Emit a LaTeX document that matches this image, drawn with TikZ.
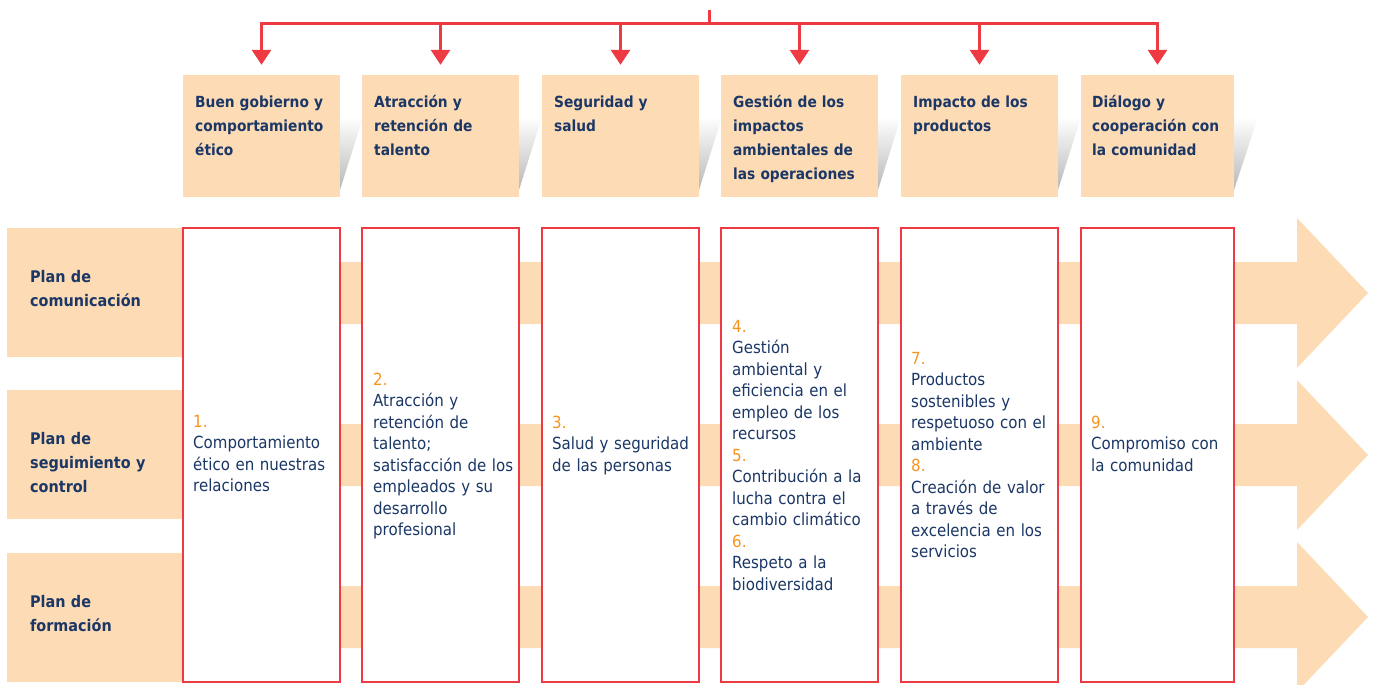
\documentclass[tikz,border=0pt]{standalone}
\usepackage{fontspec}
\setmainfont{DejaVu Sans Condensed}
\usepackage{xcolor}
\usetikzlibrary{arrows.meta,positioning,calc}

\definecolor{peach}{HTML}{FDDBB5}
\definecolor{linered}{HTML}{EE3B43}
\definecolor{navy}{HTML}{1B3766}
\definecolor{numorange}{HTML}{F7941D}

\newcommand{\itemno}[1]{\textcolor{numorange}{#1}}

\tikzset{
  headbox/.style={fill=peach, minimum width=157pt, minimum height=122pt, inner sep=0pt},
  colbox/.style={draw=linered, line width=2.5pt, fill=white, minimum width=157pt, minimum height=454pt, inner sep=0pt},
  rowbox/.style={fill=peach, minimum width=175pt, minimum height=129pt, inner sep=0pt},
  headtext/.style={anchor=base west, align=left, text width=160pt, text=navy, inner sep=0pt, font=\fontsize{15.3}{24}\selectfont\bfseries},
  rowtext/.style={headtext, font=\fontsize{16}{24}\selectfont\bfseries},
  bodytext/.style={anchor=base west, align=left, text width=160pt, text=navy, inner sep=0pt, font=\fontsize{16.7}{21.5}\selectfont},
  feed/.style={draw=linered, line width=3pt, shorten >=10pt, -{Triangle[width=19pt,length=15pt]}},
  shadowtri/.style={top color=white, bottom color=black!28},
}

\begin{document}
\begin{tikzpicture}[x=1pt, y=-1pt]
    \useasboundingbox (0,0) rectangle (1376,685);

    % Shadows behind the theme boxes
    \shade[shadowtri] (340,117) -- (363,117) -- (340,190) -- cycle;
    \shade[shadowtri] (519,117) -- (542,117) -- (519,190) -- cycle;
    \shade[shadowtri] (699,117) -- (722,117) -- (699,190) -- cycle;
    \shade[shadowtri] (878,117) -- (901,117) -- (878,190) -- cycle;
    \shade[shadowtri] (1058,117) -- (1081,117) -- (1058,190) -- cycle;
    \shade[shadowtri] (1234,117) -- (1258,117) -- (1234,190) -- cycle;

    % Theme boxes (top row)
    \node[headbox] (h1) at (261.5,136) {};
    \node[headbox] (h2) at (440.5,136) {};
    \node[headbox] (h3) at (620.5,136) {};
    \node[headbox] (h4) at (799.5,136) {};
    \node[headbox] (h5) at (979.5,136) {};
    \node[headbox, minimum width=153pt] (h6) at (1157.5,136) {};

    \node[headtext] (ht1) at (195,107) {Buen gobierno y\\comportamiento\\ético};
    \node[headtext] (ht2) at (374,107) {Atracción y\\retención de\\talento};
    \node[headtext] (ht3) at (554,107) {Seguridad y\\salud};
    \node[headtext] (ht4) at (733,107) {Gestión de los\\impactos\\ambientales de\\las operaciones};
    \node[headtext] (ht5) at (913,107) {Impacto de los\\productos};
    \node[headtext] (ht6) at (1092,107) {Diálogo y\\cooperación con\\la comunidad};

    % Plan arrows (bands behind the columns)
    \fill[peach] (182,262) -- (1297,262) -- (1297,218) -- (1368,293) -- (1297,368) -- (1297,324) -- (182,324) -- cycle;
    \fill[peach] (182,424) -- (1297,424) -- (1297,380) -- (1368,455) -- (1297,530) -- (1297,486) -- (182,486) -- cycle;
    \fill[peach] (182,586) -- (1297,586) -- (1297,542) -- (1368,617) -- (1297,692) -- (1297,648) -- (182,648) -- cycle;

    % Plan boxes (left side)
    \node[rowbox] (p1) at (94.5,292.5) {};
    \node[rowbox] (p2) at (94.5,454.5) {};
    \node[rowbox] (p3) at (94.5,617.5) {};

    \node[rowtext] (pt1) at (30,282) {Plan de\\comunicación};
    \node[rowtext] (pt2) at (30,444) {Plan de\\seguimiento y\\control};
    \node[rowtext] (pt3) at (30,607) {Plan de\\formación};

    % Commitment columns
    \node[colbox] (c1) at (261.5,455) {};
    \node[colbox] (c2) at (440.5,455) {};
    \node[colbox] (c3) at (620.5,455) {};
    \node[colbox] (c4) at (799.5,455) {};
    \node[colbox] (c5) at (979.5,455) {};
    \node[colbox, minimum width=153pt] (c6) at (1157.5,455) {};

    \node[bodytext] (ct1) at (193,427) {\itemno{1.}\\Comportamiento\\ético en nuestras\\relaciones};
    \node[bodytext] (ct2) at (373,385) {\itemno{2.}\\Atracción y\\retención de\\talento;\\satisfacción de los\\empleados y su\\desarrollo\\profesional};
    \node[bodytext] (ct3) at (552,428) {\itemno{3.}\\Salud y seguridad\\de las personas};
    \node[bodytext] (ct4) at (732,332) {\itemno{4.}\\Gestión\\ambiental y\\eficiencia en el\\empleo de los\\recursos\\\itemno{5.}\\Contribución a la\\lucha contra el\\cambio climático\\\itemno{6.}\\Respeto a la\\biodiversidad};
    \node[bodytext] (ct5) at (911,364) {\itemno{7.}\\Productos\\sostenibles y\\respetuoso con el\\ambiente\\\itemno{8.}\\Creación de valor\\a través de\\excelencia en los\\servicios};
    \node[bodytext] (ct6) at (1091,428) {\itemno{9.}\\Compromiso con\\la comunidad};

    % Feed lines from the top
    \coordinate (top) at (709,10);
    \coordinate (hub) at (709,24);
    \draw[feed] (top) -- (hub) -| (h1.north);
    \draw[feed] (top) -- (hub) -| (h2.north);
    \draw[feed] (top) -- (hub) -| (h3.north);
    \draw[feed] (top) -- (hub) -| (h4.north);
    \draw[feed] (top) -- (hub) -| (h5.north);
    \draw[feed] (top) -- (hub) -| (h6.north);
\end{tikzpicture}
\end{document}
